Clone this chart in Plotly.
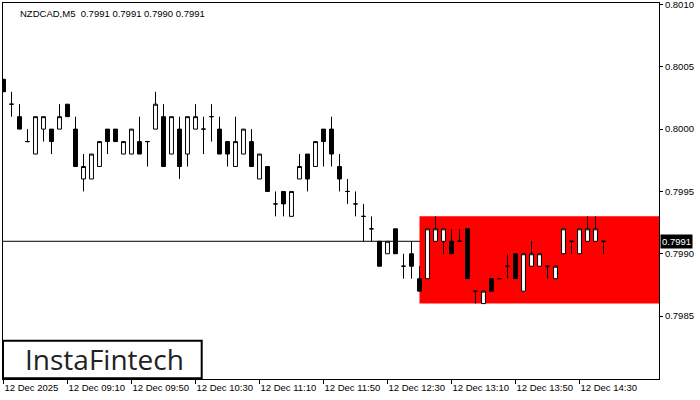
import plotly.graph_objects as go
import pandas as pd

title_text = "NZDCAD,M5\u00a0\u00a00.7991 0.7991 0.7990 0.7991"
start_time = "2025-12-12 08:30"

opens = [0.8004, 0.8002, 0.8001, 0.7999, 0.7998, 0.8000, 0.8000, 0.8000, 0.8002, 0.8000,
         0.7996, 0.7996, 0.7997, 0.8000, 0.8000, 0.7998, 0.7998, 0.7999, 0.7999, 0.8000,
         0.8001, 0.7998, 0.8000, 0.7998, 0.8000, 0.8000, 0.8001, 0.8000, 0.7999, 0.7997,
         0.7998, 0.7999, 0.7996, 0.7997, 0.7994, 0.7995, 0.7993, 0.7996, 0.7998, 0.7997,
         0.8000, 0.8000, 0.7997, 0.7995, 0.7994, 0.7993, 0.7992, 0.7991, 0.7990, 0.7992,
         0.7989, 0.7990, 0.7988, 0.7988, 0.7991, 0.7991, 0.7991, 0.7991, 0.7992, 0.7987,
         0.7986, 0.7988, 0.7988, 0.7989, 0.7990, 0.7987, 0.7989, 0.7989, 0.7989, 0.7988,
         0.7990, 0.7991, 0.7990, 0.7991, 0.7991, 0.7991]
highs = [0.8004, 0.8003, 0.8002, 0.8000, 0.8001, 0.8001, 0.8000, 0.8002, 0.8002, 0.8001,
         0.7998, 0.7998, 0.7999, 0.8000, 0.8000, 0.7999, 0.8000, 0.8001, 0.7999, 0.8003,
         0.8002, 0.8001, 0.8001, 0.8001, 0.8002, 0.8001, 0.8002, 0.8001, 0.7999, 0.8001,
         0.8000, 0.8000, 0.7998, 0.7997, 0.7995, 0.7995, 0.7995, 0.7998, 0.7998, 0.7999,
         0.8000, 0.8001, 0.7998, 0.7996, 0.7995, 0.7994, 0.7993, 0.7991, 0.7991, 0.7992,
         0.7990, 0.7991, 0.7989, 0.7992, 0.7993, 0.7992, 0.7992, 0.7992, 0.7992, 0.7987,
         0.7987, 0.7988, 0.7988, 0.7990, 0.7990, 0.7990, 0.7991, 0.7990, 0.7989, 0.7989,
         0.7992, 0.7991, 0.7992, 0.7993, 0.7993, 0.7991]
lows = [0.8003, 0.8001, 0.8000, 0.7999, 0.7998, 0.7999, 0.7998, 0.8000, 0.8001, 0.7997,
        0.7995, 0.7996, 0.7997, 0.7998, 0.7999, 0.7998, 0.7998, 0.7998, 0.7997, 0.8000,
        0.7997, 0.7998, 0.7996, 0.7997, 0.8000, 0.7998, 0.7999, 0.7998, 0.7997, 0.7997,
        0.7998, 0.7997, 0.7996, 0.7995, 0.7993, 0.7993, 0.7993, 0.7996, 0.7995, 0.7997,
        0.7997, 0.7997, 0.7995, 0.7994, 0.7993, 0.7991, 0.7991, 0.7989, 0.7990, 0.7990,
        0.7988, 0.7988, 0.7987, 0.7988, 0.7991, 0.7990, 0.7990, 0.7991, 0.7988, 0.7986,
        0.7986, 0.7987, 0.7988, 0.7988, 0.7988, 0.7987, 0.7989, 0.7989, 0.7988, 0.7988,
        0.7990, 0.7990, 0.7990, 0.7991, 0.7991, 0.7990]
closes = [0.8003, 0.8002, 0.8000, 0.7999, 0.8001, 0.8001, 0.7999, 0.8001, 0.8001, 0.7997,
          0.7997, 0.7998, 0.7999, 0.7999, 0.7999, 0.7999, 0.8000, 0.7998, 0.7999, 0.8002,
          0.7997, 0.8001, 0.7997, 0.8001, 0.8001, 0.8000, 0.8001, 0.7998, 0.7998, 0.7999,
          0.8000, 0.7997, 0.7998, 0.7995, 0.7994, 0.7994, 0.7995, 0.7997, 0.7996, 0.7999,
          0.7999, 0.7998, 0.7996, 0.7995, 0.7994, 0.7993, 0.7992, 0.7989, 0.7991, 0.7990,
          0.7989, 0.7989, 0.7987, 0.7992, 0.7992, 0.7992, 0.7990, 0.7991, 0.7988, 0.7987,
          0.7987, 0.7987, 0.7988, 0.7989, 0.7988, 0.7990, 0.7990, 0.7990, 0.7989, 0.7989,
          0.7992, 0.7991, 0.7992, 0.7992, 0.7992, 0.7991]

x_tick_labels = ["12 Dec 2025", "12 Dec 09:10", "12 Dec 09:50", "12 Dec 10:30", "12 Dec 11:10",
                 "12 Dec 11:50", "12 Dec 12:30", "12 Dec 13:10", "12 Dec 13:50", "12 Dec 14:30"]
y_tick_vals = [0.7985, 0.7990, 0.7995, 0.8000, 0.8005, 0.8010]
y_tick_labels = ["0.7985", "0.7990", "0.7995", "0.8000", "0.8005", "0.8010"]

zone_start_index = 52
zone_low = 0.7986
zone_high = 0.7993
bid_price = 0.7991
bid_label = "0.7991"
logo_text = "InstaFintech"

bar = pd.Timedelta(minutes=5)
times = pd.date_range(start_time, periods=len(opens), freq="5min")
tick_times = pd.date_range(start_time, periods=len(x_tick_labels), freq="40min")
x_range = [times[0] - 0.0625 * bar, times[0] + 81.9375 * bar]
y_range = [0.797995, 0.801012]

fig = go.Figure()
fig.add_trace(go.Candlestick(
    x=times, open=opens, high=highs, low=lows, close=closes,
    increasing=dict(fillcolor="white", line=dict(color="black", width=1)),
    decreasing=dict(fillcolor="black", line=dict(color="black", width=1)),
    whiskerwidth=0, showlegend=False, hoverinfo="skip",
))

shapes = [
    dict(type="rect", xref="x", yref="y", x0=times[zone_start_index], x1=x_range[1],
         y0=zone_low, y1=zone_high, fillcolor="#ff0000", line=dict(width=0), layer="below"),
    dict(type="line", xref="paper", yref="y", x0=0, x1=1, y0=bid_price, y1=bid_price,
         line=dict(color="black", width=1), layer="below"),
    dict(type="rect", xref="paper", yref="paper", x0=0.0, x1=0.3029, y0=0.002, y1=0.1019,
         fillcolor="white", line=dict(color="black", width=2), layer="above"),
]

annotations = [
    dict(text=title_text, xref="paper", yref="paper", x=0.0229, y=0.992, xanchor="left",
         yanchor="top", showarrow=False, font=dict(family="Liberation Sans", size=9.5, color="black")),
    dict(text=bid_label, xref="paper", yref="y", x=1, y=bid_price, xanchor="left", yanchor="middle",
         xshift=1, showarrow=False, bgcolor="black", borderpad=1,
         font=dict(family="Liberation Sans", size=9.5, color="white")),
    dict(text=logo_text, xref="paper", yref="paper", x=0.1545, y=0.052, xanchor="center",
         yanchor="middle", showarrow=False, font=dict(family="Open Sans", size=28, color="#222222")),
]

fig.update_layout(
    width=700, height=400,
    margin=dict(l=3, r=41, t=3, b=21, autoexpand=False),
    paper_bgcolor="white", plot_bgcolor="white",
    shapes=shapes, annotations=annotations,
    font=dict(family="Liberation Sans", size=9.5, color="black"),
    xaxis=dict(
        range=x_range, rangeslider=dict(visible=False), showgrid=False, zeroline=False,
        showline=True, mirror=True, linecolor="black", linewidth=1,
        tickmode="array", tickvals=tick_times, ticktext=x_tick_labels,
        ticks="outside", ticklen=4, tickcolor="black", tickwidth=1,
        ticklabelposition="outside right", tickangle=0, ticklabeloverflow="allow",
        tickfont=dict(family="Liberation Sans", size=9.5, color="black"),
    ),
    yaxis=dict(
        range=y_range, side="right", showgrid=False, zeroline=False,
        showline=True, mirror=True, linecolor="black", linewidth=1,
        tickmode="array", tickvals=y_tick_vals, ticktext=y_tick_labels,
        ticks="outside", ticklen=3, tickcolor="black", tickwidth=1,
        ticklabeloverflow="allow",
        tickfont=dict(family="Liberation Sans", size=9.5, color="black"),
    ),
)

fig.write_html("out.html", config={"displayModeBar": False},
               post_script="document.body.style.margin='0px';document.body.style.overflow='hidden';")
